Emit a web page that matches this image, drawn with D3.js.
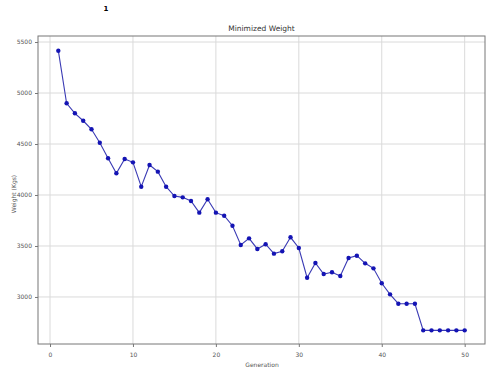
<!DOCTYPE html>
<html>
<head>
<meta charset="utf-8">
<script src="https://cdn.jsdelivr.net/npm/d3@7"></script>
<style>
  body { margin: 0; background: #fff; }
  svg { display: block; font-family: "DejaVu Sans", sans-serif; }
</style>
</head>
<body>
<svg id="chart" width="486" height="372"></svg>
<script>
// generation numbers and minimized weight per generation
const generations = d3.range(1, 51);
const weights = [
  5415, 4899, 4801, 4728, 4644, 4513, 4360, 4213, 4353, 4320,
  4081, 4294, 4229, 4081, 3990, 3977, 3941, 3827, 3958, 3827,
  3797, 3699, 3510, 3575, 3471, 3517, 3425, 3448, 3585, 3480,
  3189, 3333, 3225, 3242, 3206, 3382, 3405, 3330, 3281, 3134,
  3026, 2934, 2934, 2934, 2673, 2673, 2673, 2673, 2673, 2673
];
const xTicks = [0, 10, 20, 30, 40, 50];
const yTicks = [3000, 3500, 4000, 4500, 5000, 5500];

const svg = d3.select('#chart');
const plot = { left: 38, right: 485, top: 36, bottom: 344 };

const x = d3.scaleLinear().domain([-1.45, 52.45]).range([plot.left, plot.right]);
const y = d3.scaleLinear().domain([2539, 5559]).range([plot.bottom, plot.top]);

// stray mark above the figure
svg.append('text')
  .attr('x', 106).attr('y', 11)
  .attr('font-size', 7).attr('font-weight', 'bold')
  .attr('text-anchor', 'middle')
  .text('1');

// grid
svg.append('g')
  .attr('stroke', '#dadada').attr('stroke-width', 1)
  .call(g => g.selectAll('.vx').data(xTicks).join('line')
    .attr('x1', d => x(d)).attr('x2', d => x(d))
    .attr('y1', plot.top).attr('y2', plot.bottom))
  .call(g => g.selectAll('.hy').data(yTicks).join('line')
    .attr('y1', d => y(d)).attr('y2', d => y(d))
    .attr('x1', plot.left).attr('x2', plot.right));

// axes
const xAxis = svg.append('g')
  .attr('transform', `translate(0,${plot.bottom})`)
  .call(d3.axisBottom(x).tickValues(xTicks).tickFormat(d3.format('d')).tickSize(3).tickPadding(6));
const yAxis = svg.append('g')
  .attr('transform', `translate(${plot.left},0)`)
  .call(d3.axisLeft(y).tickValues(yTicks).tickFormat(d3.format('d')).tickSize(3).tickPadding(3));

[xAxis, yAxis].forEach(a => {
  a.attr('font-family', '"DejaVu Sans", sans-serif').attr('font-size', 6);
  a.selectAll('text').attr('fill', '#555');
  a.selectAll('.tick line').attr('stroke', '#777');
  a.select('.domain').remove();
});

// frame
svg.append('rect')
  .attr('x', plot.left).attr('y', plot.top)
  .attr('width', plot.right - plot.left).attr('height', plot.bottom - plot.top)
  .attr('fill', 'none').attr('stroke', '#777').attr('stroke-width', 1);

// line and markers
const pts = generations.map((g, i) => [g, weights[i]]);
svg.append('path')
  .datum(pts)
  .attr('fill', 'none')
  .attr('stroke', '#3a3ab4')
  .attr('stroke-width', 1.1)
  .attr('d', d3.line().x(d => x(d[0])).y(d => y(d[1])));

svg.append('g')
  .attr('fill', '#1414b4')
  .selectAll('circle')
  .data(pts)
  .join('circle')
  .attr('cx', d => x(d[0]))
  .attr('cy', d => y(d[1]))
  .attr('r', 2.2);

// titles
svg.append('text')
  .attr('x', (plot.left + plot.right) / 2).attr('y', 31)
  .attr('text-anchor', 'middle')
  .attr('font-size', 7.5).attr('fill', '#333')
  .text('Minimized Weight');

svg.append('text')
  .attr('x', 262).attr('y', 367)
  .attr('text-anchor', 'middle')
  .attr('font-size', 6).attr('fill', '#555')
  .text('Generation');

svg.append('text')
  .attr('transform', 'translate(16,194) rotate(-90)')
  .attr('text-anchor', 'middle')
  .attr('font-size', 6).attr('fill', '#555')
  .text('Weight (Kgs)');
</script>
</body>
</html>
